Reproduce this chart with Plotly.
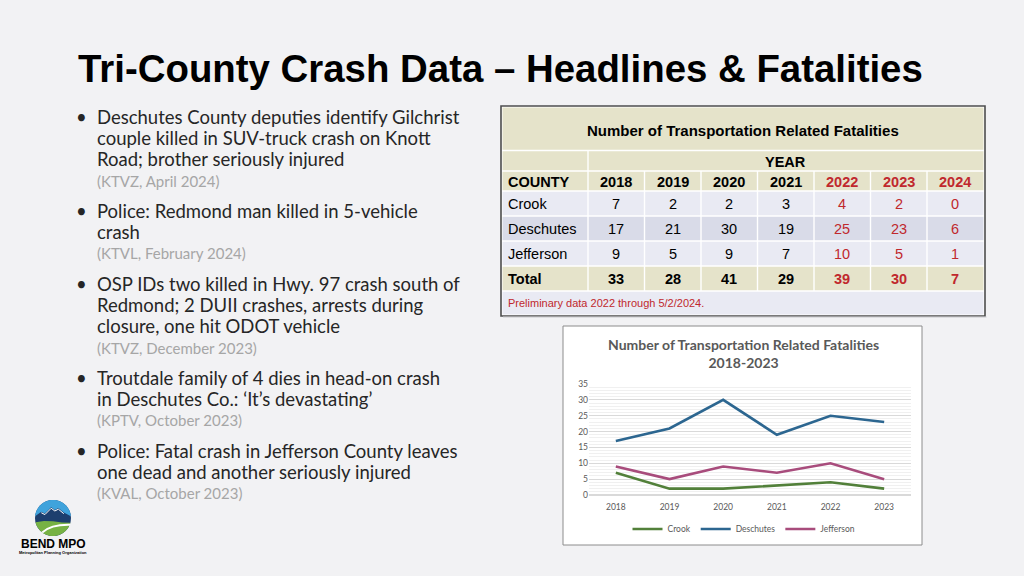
import numpy as np
import plotly.graph_objects as go

W, H = 1024, 576

# ---------------- data ----------------
slide_title = "Tri-County Crash Data – Headlines & Fatalities"
table_title = "Number of Transportation Related Fatalities"
table_years = ["2018", "2019", "2020", "2021", "2022", "2023", "2024"]
preliminary_years = ["2022", "2023", "2024"]
counties = ["Crook", "Deschutes", "Jefferson"]
crook = [7, 2, 2, 3, 4, 2, 0]
deschutes = [17, 21, 30, 19, 25, 23, 6]
jefferson = [9, 5, 9, 7, 10, 5, 1]
totals = [33, 28, 41, 29, 39, 30, 7]
table_note = "Preliminary data 2022 through 5/2/2024."

chart_title = "Number of Transportation Related Fatalities<br>2018-2023"
chart_years = table_years[:6]

headline_lines = [
    ["Deschutes County deputies identify Gilchrist",
     "couple killed in SUV-truck crash on Knott",
     "Road; brother seriously injured"],
    ["Police: Redmond man killed in 5-vehicle",
     "crash"],
    ["OSP IDs two killed in Hwy. 97 crash south of",
     "Redmond; 2 DUII crashes, arrests during",
     "closure, one hit ODOT vehicle"],
    ["Troutdale family of 4 dies in head-on crash",
     "in Deschutes Co.: \u2018It\u2019s devastating\u2019"],
    ["Police: Fatal crash in Jefferson County leaves",
     "one dead and another seriously injured"],
]
headline_sources = [
    "(KTVZ, April 2024)",
    "(KTVL, February 2024)",
    "(KTVZ, December 2023)",
    "(KPTV, October 2023)",
    "(KVAL, October 2023)",
]

# ---------------- styles ----------------
BG = "#f2f2f4"
BEIGE = "#e5e3ca"
ROW_LIGHT = "#e9eaf3"
ROW_MID = "#d9dbe8"
RED = "#c0282d"
TXT = "#262626"
SRC = "#a6a6a6"
GRAY = "#595959"
C_CROOK = "#52803a"
C_DESCH = "#2c6690"
C_JEFF = "#a84c7c"
ARIAL = "Liberation Sans, Arial, sans-serif"
CAL = "Lato, Carlito, Calibri, sans-serif"


def px(x):
    return x / W


def py(y):
    return 1 - y / H


annotations = []
shapes = []


def text(x, y, s, size, color=TXT, family=CAL, xanchor="left", yanchor="middle"):
    annotations.append(dict(x=px(x), y=py(y), xref="paper", yref="paper", text=s,
                            showarrow=False, xanchor=xanchor, yanchor=yanchor,
                            font=dict(size=size, color=color, family=family)))


def rect(x0, y0, x1, y1, fill, line=None, lw=0, layer="below"):
    shapes.append(dict(type="rect", xref="paper", yref="paper",
                       x0=px(x0), x1=px(x1), y0=py(y1), y1=py(y0),
                       fillcolor=fill, layer=layer,
                       line=dict(color=line or "rgba(0,0,0,0)", width=lw)))


# ---------------- slide title ----------------
text(76, 69, "<b>" + slide_title + "</b>", 38.4, "black", ARIAL)

# ---------------- headlines ----------------
y = 117
for lines, src in zip(headline_lines, headline_sources):
    text(74, y, "\u2022", 18.5, TXT, CAL)
    for ln in lines:
        text(95, y, ln, 18.5, TXT, CAL)
        y += 21.2
    text(95, y, src, 15, SRC, CAL)
    y += 30.5

# ---------------- data table (built from the arrays) ----------------
TX0, TX1 = 502.5, 983.5
col_w0 = 85.5
ncol = len(table_years)
col_w = (TX1 - TX0 - col_w0) / ncol
col_edges = [TX0, TX0 + col_w0] + [TX0 + col_w0 + col_w * (i + 1) for i in range(ncol)]
col_centers = [(col_edges[i + 1] + col_edges[i + 2]) / 2 for i in range(ncol)]
g = 0.7  # half white gap between cells

rect(501, 106, 985, 316, "white")
# title row
rect(TX0, 107.5, TX1, 150.5 - g, BEIGE)
text(743, 130, "<b>" + table_title + "</b>", 15, "black", ARIAL, xanchor="center")
# YEAR row
rect(TX0, 150.5 + g, col_edges[1] - g, 171 - g, BEIGE)
rect(col_edges[1] + g, 150.5 + g, TX1, 171 - g, BEIGE)
text((col_edges[1] + TX1) / 2, 162, "<b>YEAR</b>", 14.5, "black", ARIAL, xanchor="center")

year_colors = [RED if yv in preliminary_years else "black" for yv in table_years]
row_tops = [171, 191, 216, 241, 266, 291]
row_labels = ["<b>COUNTY</b>"] + counties + ["<b>Total</b>"]
row_fills = [BEIGE, ROW_LIGHT, ROW_MID, ROW_LIGHT, BEIGE]
row_values = [
    ["<b>%s</b>" % yv for yv in table_years],
    [str(v) for v in crook],
    [str(v) for v in deschutes],
    [str(v) for v in jefferson],
    ["<b>%d</b>" % v for v in totals],
]
for r_i in range(len(row_labels)):
    y0, y1 = row_tops[r_i], row_tops[r_i + 1]
    yc = (y0 + y1) / 2 + 0.5
    for c_i in range(ncol + 1):
        x0 = col_edges[c_i] + (0 if c_i == 0 else g)
        x1 = col_edges[c_i + 1] - (0 if c_i == ncol else g)
        rect(x0, y0 + g, x1, y1 - g, row_fills[r_i])
    text(506, yc, row_labels[r_i], 14.5, "black", ARIAL)
    for c_i, val in enumerate(row_values[r_i]):
        text(col_centers[c_i], yc, val, 14.5, year_colors[c_i], ARIAL, xanchor="center")

# note row
rect(TX0, 291 + g, TX1, 314.5, ROW_LIGHT)
text(506, 303, table_note, 11, RED, ARIAL)
# frame
rect(501, 106, 985, 316, "rgba(0,0,0,0)", "#4d4d4d", 1.6)
shapes.append(dict(type="line", xref="paper", yref="paper", x0=px(503), x1=px(986.5),
                   y0=py(317), y1=py(317), line=dict(color="#c8c8cc", width=1.2), layer="below"))

# ---------------- line chart ----------------
rect(563, 326, 922, 545, "white", "#8c8c8c", 1)
text(743, 353, "<b>" + chart_title + "</b>", 14, GRAY, CAL, xanchor="center")

n = len(chart_years)
traces = [
    go.Scatter(x=chart_years, y=crook[:n], name="Crook", mode="lines",
               line=dict(color=C_CROOK, width=2.6)),
    go.Scatter(x=chart_years, y=deschutes[:n], name="Deschutes", mode="lines",
               line=dict(color=C_DESCH, width=2.6)),
    go.Scatter(x=chart_years, y=jefferson[:n], name="Jefferson", mode="lines",
               line=dict(color=C_JEFF, width=2.6)),
]

# ---------------- logo ----------------
cx, cy, r = 53, 518, 18


def P(dx, dy):
    return "%.5f,%.5f" % (px(cx + dx * r / 20), py(cy + dy * r / 20))


def arc(a0, a1, num=40):
    a = np.radians(np.linspace(a0, a1, num))
    return [P(20 * np.cos(t), 20 * np.sin(t)) for t in a]


shapes.append(dict(type="circle", xref="paper", yref="paper",
                   x0=px(cx - r), x1=px(cx + r), y0=py(cy + r), y1=py(cy - r),
                   fillcolor="#1d3f6e", line=dict(width=0), layer="above"))
ridge = [(-19.9, -2), (-13, -7), (-9, -5), (-2, -12), (2, -9), (6, -11), (12, -6), (19.9, -2)]
a_r = np.degrees(np.arctan2(-2, 19.9))
sky = "M" + " L".join([P(*p) for p in ridge] + arc(a_r, -180 - a_r)) + " Z"
shapes.append(dict(type="path", xref="paper", yref="paper", path=sky,
                   fillcolor="#3fa3dc", line=dict(width=0), layer="above"))
snow = "M" + " L".join(P(x, yv + 1.2) for x, yv in ridge[1:-1])
shapes.append(dict(type="path", xref="paper", yref="paper", path=snow,
                   line=dict(color="white", width=1), layer="above"))
gtop = [(-19.4, 4.8), (-10, 3.2), (0, 3.6), (10, 5), (19.3, 5.2)]
a_g = np.degrees(np.arctan2(5.2, 19.3))
green = "M" + " L".join([P(*p) for p in gtop] + arc(a_g, 180 - np.degrees(np.arctan2(4.8, 19.4)))) + " Z"
shapes.append(dict(type="path", xref="paper", yref="paper", path=green,
                   fillcolor="#77b244", line=dict(width=0), layer="above"))
swoosh = "M" + P(-12, 16) + " Q" + P(-2, 7) + " " + P(19, 7.5)
shapes.append(dict(type="path", xref="paper", yref="paper", path=swoosh,
                   line=dict(color="white", width=2), layer="above"))
text(53, 544, "<b>BEND MPO</b>", 12, "black", ARIAL, xanchor="center")
text(53, 552, "<b>Metropolitan Planning Organization</b>", 4, "black", ARIAL, xanchor="center")

# ---------------- figure ----------------
fig = go.Figure(data=traces)
fig.update_layout(
    width=W, height=H, autosize=False,
    margin=dict(l=0, r=0, t=0, b=0, autoexpand=False),
    paper_bgcolor=BG, plot_bgcolor="white",
    shapes=shapes, annotations=annotations,
    showlegend=True,
    legend=dict(orientation="h", x=px(744), y=py(529), xanchor="center", yanchor="middle",
                font=dict(size=8.5, color=GRAY, family=CAL), bgcolor="rgba(0,0,0,0)",
                itemwidth=30),
    xaxis=dict(domain=[px(589), px(911)], type="category", range=[-0.5, n - 0.5],
               showgrid=False, showline=False, zeroline=False, ticks="",
               ticklabelstandoff=5, automargin=False,
               tickfont=dict(size=8.5, color=GRAY, family=CAL), anchor="y"),
    yaxis=dict(domain=[py(495), py(384)], range=[0, 35], dtick=5,
               showgrid=True, gridcolor="#d9d9d9", gridwidth=1,
               minor=dict(dtick=1, showgrid=True, gridcolor="#f0f0f0"),
               zeroline=True, zerolinecolor="#d9d9d9", showline=False, ticks="",
               automargin=False,
               tickfont=dict(size=8.5, color=GRAY, family=CAL), anchor="x"),
)

fig.write_html("out.html", config={"displayModeBar": False},
               post_script="document.body.style.margin='0';"
                           "document.documentElement.style.overflow='hidden';")
